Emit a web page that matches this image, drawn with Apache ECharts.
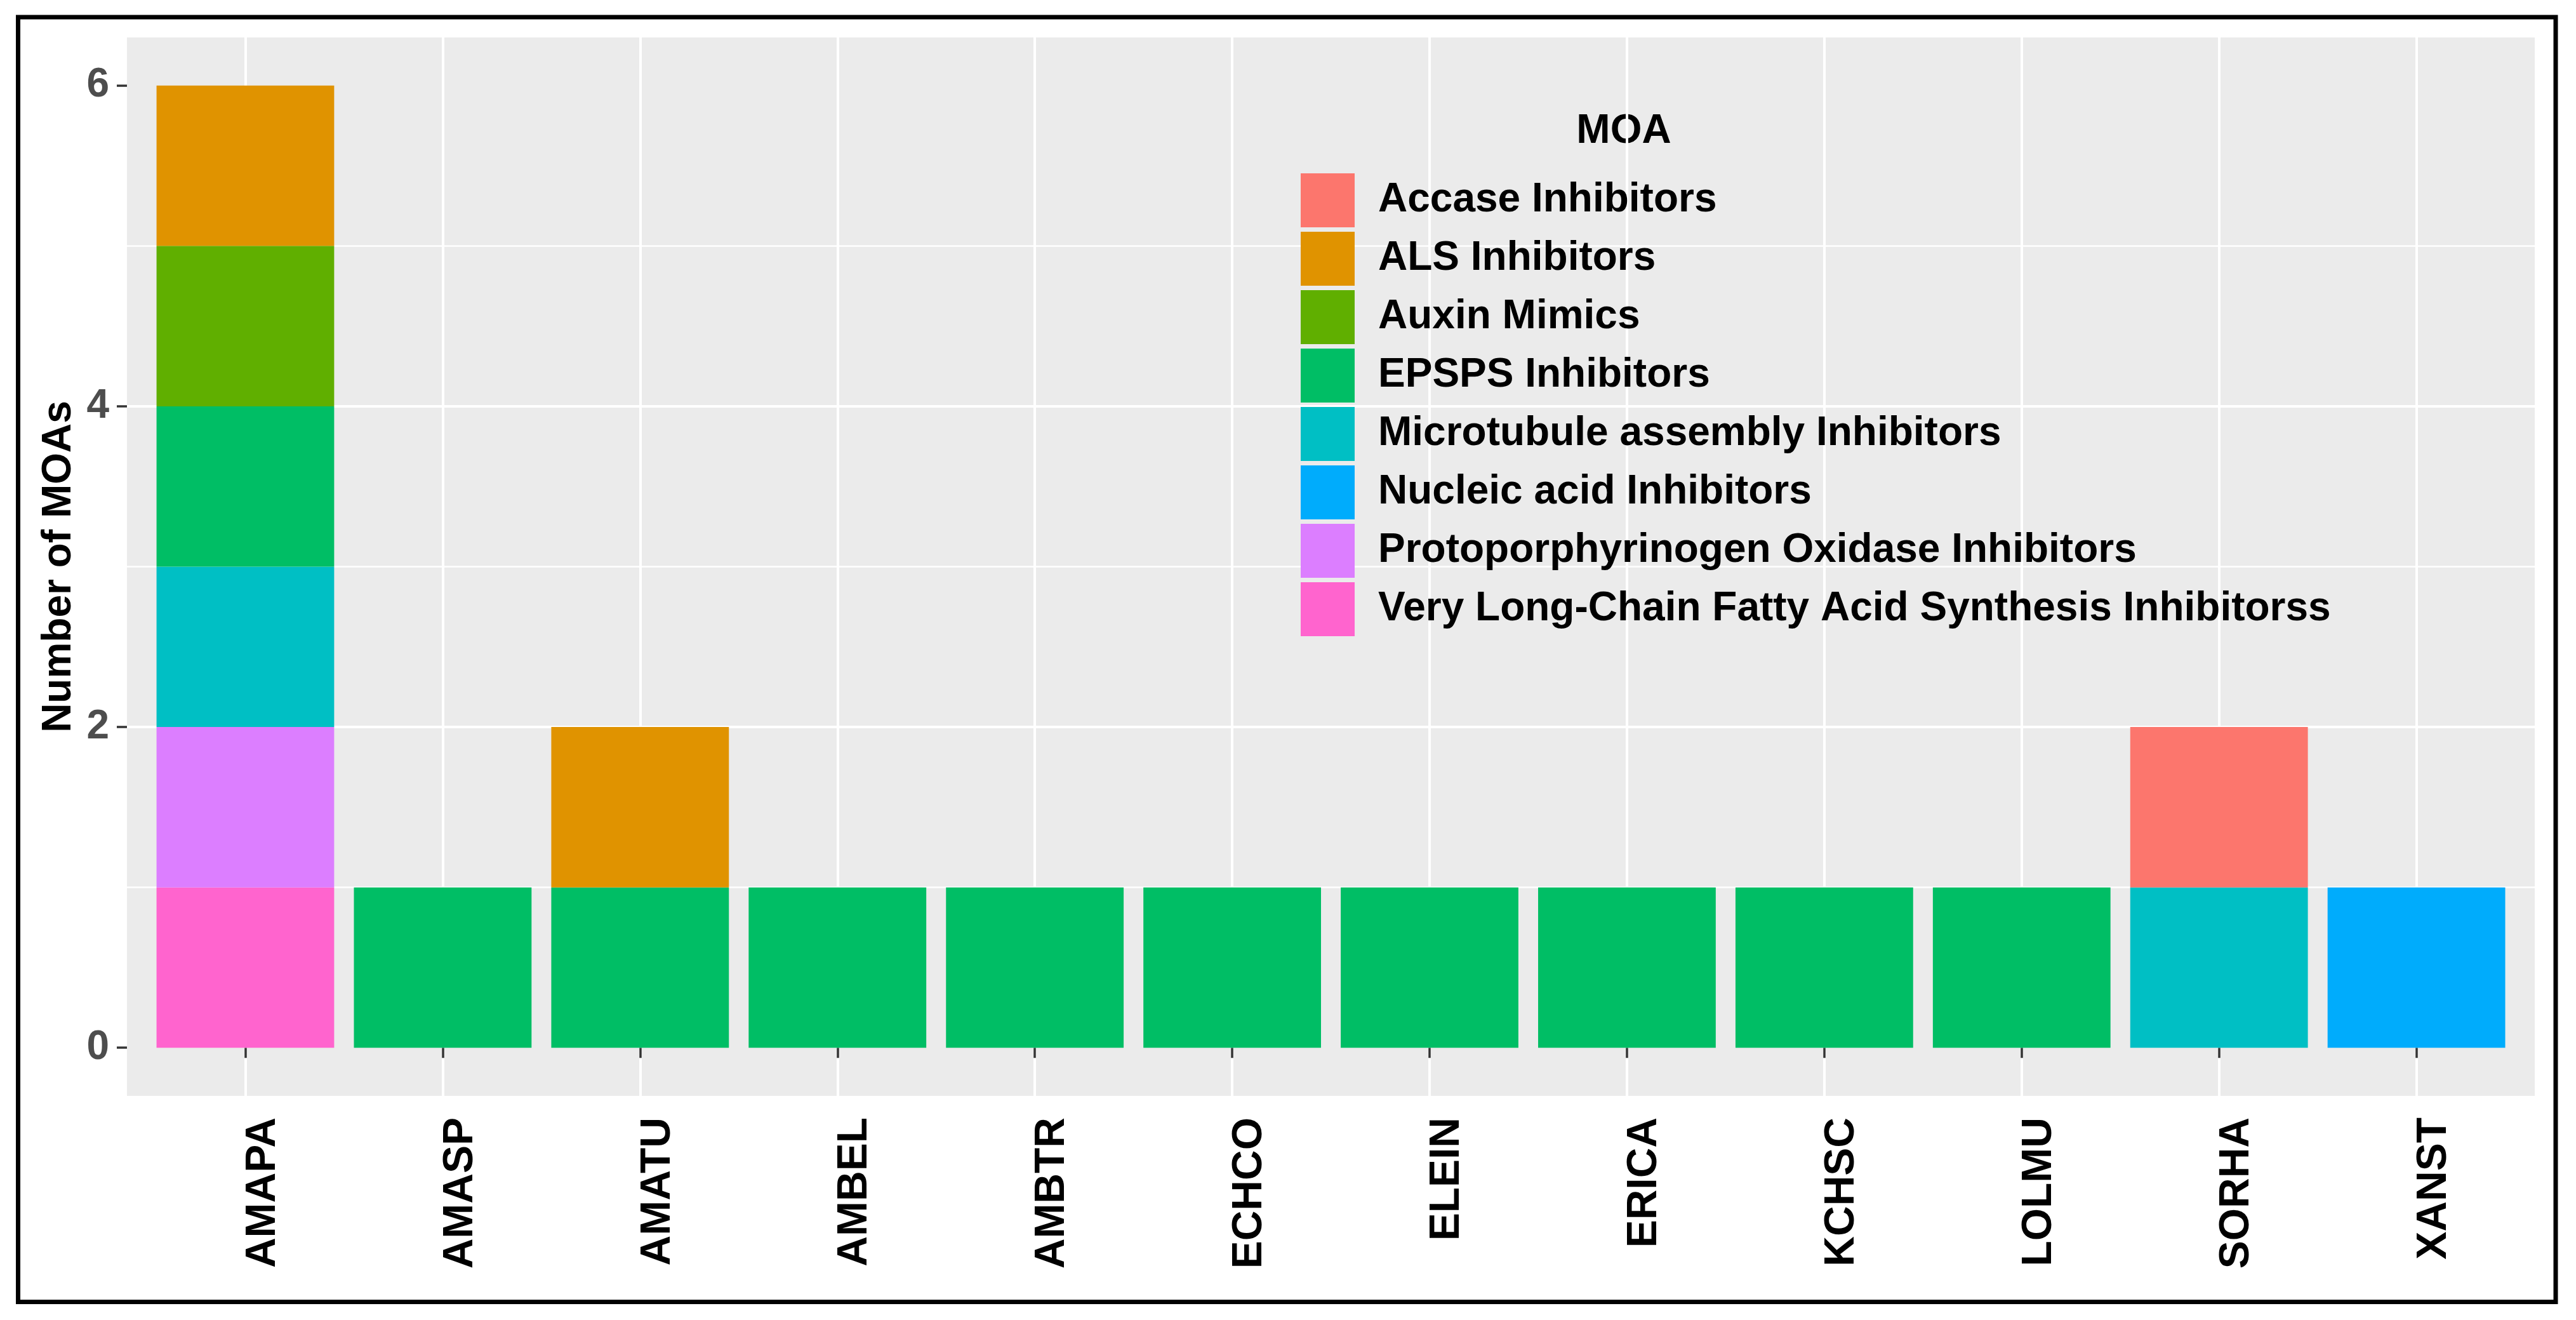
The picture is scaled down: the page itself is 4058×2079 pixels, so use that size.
<!DOCTYPE html>
<html>
<head>
<meta charset="utf-8">
<script src="https://cdn.jsdelivr.net/npm/echarts@6/dist/echarts.min.js"></script>
<style>
html,body{margin:0;padding:0;background:#fff;}
#chart{width:4058px;height:2079px;}
</style>
</head>
<body>
<div id="chart"></div>
<script>
// ---- data ----
const categories = ['AMAPA','AMASP','AMATU','AMBEL','AMBTR','ECHCO','ELEIN','ERICA','KCHSC','LOLMU','SORHA','XANST'];
const moaNames = ['Accase Inhibitors','ALS Inhibitors','Auxin Mimics','EPSPS Inhibitors','Microtubule assembly Inhibitors','Nucleic acid Inhibitors','Protoporphyrinogen Oxidase Inhibitors','Very Long-Chain Fatty Acid Synthesis Inhibitorss'];
const moaColors = ['#FC766D','#E09300','#60AF00','#00BE65','#00BFC4','#00ACFC','#DC7EFF','#FF64CE'];
const accase      = [0,0,0,0,0,0,0,0,0,0,1,0];
const als         = [1,0,1,0,0,0,0,0,0,0,0,0];
const auxin       = [1,0,0,0,0,0,0,0,0,0,0,0];
const epsps       = [1,1,1,1,1,1,1,1,1,1,0,0];
const microtubule = [1,0,0,0,0,0,0,0,0,0,1,0];
const nucleic     = [0,0,0,0,0,0,0,0,0,0,0,1];
const proto       = [1,0,0,0,0,0,0,0,0,0,0,0];
const vlcfa       = [1,0,0,0,0,0,0,0,0,0,0,0];
const yTicks = [0,2,4,6];

const seriesValues = [accase, als, auxin, epsps, microtubule, nucleic, proto, vlcfa];
// stacking order: last MOA level at the bottom (as ggplot does)
const stackOrder = [7,6,5,4,3,2,1,0];

const FONT = "'Liberation Sans', Arial, sans-serif";
const chart = echarts.init(document.getElementById('chart'), null, {renderer:'canvas'});

const series = stackOrder.map(i => ({
  name: moaNames[i],
  type: 'bar',
  stack: 'moa',
  xAxisIndex: 1,
  yAxisIndex: 1,
  barWidth: '90%',
  clip: false,
  itemStyle: { color: moaColors[i] },
  emphasis: { disabled: true },
  data: seriesValues[i]
}));

chart.setOption({
  animation: false,
  backgroundColor: '#ffffff',
  color: moaColors,
  grid: [
    { left: 200, right: 65, top: 59, bottom: 353, show: true, backgroundColor: '#EBEBEB', borderWidth: 0, containLabel: false },
    { left: 386.5, right: 251.4, top: 59, bottom: 353, show: false, containLabel: false }
  ],
  xAxis: [
    { type: 'value', gridIndex: 0, min: 0, max: 1, show: false },
    {
      type: 'category', gridIndex: 1, data: categories, boundaryGap: false,
      axisLine: { show: false },
      axisTick: { show: true, length: 16, lineStyle: { color: '#333333', width: 3.5 } },
      axisLabel: { interval: 0, rotate: 90, margin: 34, fontFamily: FONT, fontWeight: 'bold', fontSize: 66, color: '#000000', verticalAlign: 'top', lineHeight: 56 },
      splitLine: { show: true, lineStyle: { color: '#ffffff', width: 4 } }
    }
  ],
  yAxis: [
    {
      type: 'value', gridIndex: 0, min: -0.3, max: 6.3, splitNumber: 3,
      name: 'Number of MOAs', nameLocation: 'middle', nameGap: 72,
      nameTextStyle: { fontFamily: FONT, fontWeight: 'bold', fontSize: 64, color: '#000000' },
      axisLine: { show: false },
      axisTick: { show: true, length: 16, customValues: yTicks, lineStyle: { color: '#333333', width: 3.5 } },
      axisLabel: { margin: 28, customValues: yTicks, fontFamily: FONT, fontWeight: 'bold', fontSize: 64, color: '#4D4D4D' },
      splitLine: { show: true, showMinLine: false, showMaxLine: false, lineStyle: { color: '#ffffff', width: 4 } },
      minorTick: { show: false, splitNumber: 2 },
      minorSplitLine: { show: true, lineStyle: { color: '#ffffff', width: 2.5 } }
    },
    { type: 'value', gridIndex: 1, min: -0.3, max: 6.3, show: false }
  ],
  legend: {
    data: moaNames,
    orient: 'vertical',
    left: 2044, top: 268,
    itemWidth: 85, itemHeight: 85, itemGap: 7,
    icon: 'rect',
    selectedMode: false,
    textStyle: { fontFamily: FONT, fontWeight: 'bold', fontSize: 64, color: '#000000', padding: [0,0,0,32] }
  },
  graphic: [
    { type: 'text', x: 2558, y: 207, style: { text: 'MOA', fontFamily: FONT, fontWeight: 'bold', fontSize: 64, fill: '#000000', align: 'center', verticalAlign: 'middle' } },
    { type: 'rect', shape: { x: 28.5, y: 27, width: 3997.5, height: 2023.5 }, style: { fill: 'none', stroke: '#000000', lineWidth: 7 }, z: 100 }
  ],
  series: series
});
</script>
</body>
</html>
